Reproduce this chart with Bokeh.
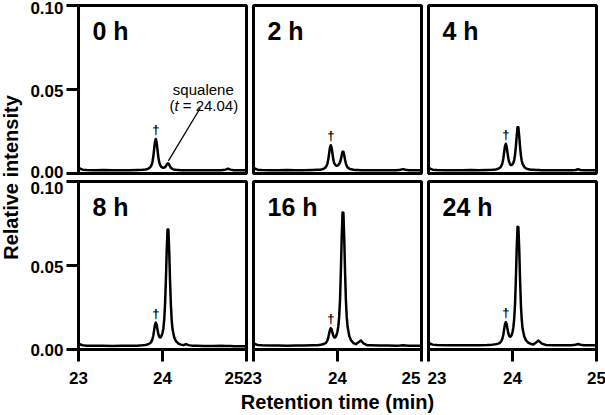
from math import pi
from bokeh.plotting import figure
from bokeh.layouts import row, column
from bokeh.models import Range1d, FixedTicker, Label
from bokeh.embed import file_html
from bokeh.resources import INLINE

FONT = "Liberation Sans"

# ---------------- data ----------------
retention_time = [
    23.00, 23.02, 23.05, 23.10, 23.20, 23.30, 23.40, 23.50, 23.60, 23.70,
    23.76, 23.80, 23.83, 23.85, 23.86, 23.87, 23.88, 23.89, 23.90, 23.91,
    23.92, 23.93, 23.94, 23.95, 23.96, 23.97, 23.98, 23.99, 24.00, 24.01,
    24.02, 24.03, 24.04, 24.05, 24.06, 24.07, 24.08, 24.09, 24.10, 24.11,
    24.12, 24.14, 24.16, 24.19, 24.22, 24.25, 24.28, 24.31, 24.35, 24.40,
    24.50, 24.60, 24.70, 24.75, 24.78, 24.81, 24.85, 24.90, 25.00]

intensity_0h = [
    0.0035, 0.0028, 0.0023, 0.0021, 0.0020, 0.0021, 0.0020, 0.0019, 0.0020, 0.0021,
    0.0022, 0.0024, 0.0028, 0.0036, 0.0041, 0.0051, 0.0068, 0.0098, 0.0142, 0.0187,
    0.0205, 0.0187, 0.0143, 0.0099, 0.0069, 0.0053, 0.0043, 0.0038, 0.0035, 0.0034,
    0.0035, 0.0038, 0.0044, 0.0053, 0.0060, 0.0059, 0.0052, 0.0042, 0.0034, 0.0030,
    0.0026, 0.0023, 0.0022, 0.0021, 0.0020, 0.0020, 0.0019, 0.0020, 0.0020, 0.0019,
    0.0019, 0.0020, 0.0019, 0.0023, 0.0028, 0.0023, 0.0020, 0.0019, 0.0019]

intensity_2h = [
    0.0035, 0.0028, 0.0023, 0.0021, 0.0020, 0.0020, 0.0021, 0.0020, 0.0020, 0.0021,
    0.0022, 0.0023, 0.0027, 0.0033, 0.0038, 0.0046, 0.0059, 0.0083, 0.0118, 0.0154,
    0.0168, 0.0154, 0.0119, 0.0084, 0.0062, 0.0054, 0.0048, 0.0046, 0.0047, 0.0051,
    0.0057, 0.0066, 0.0084, 0.0109, 0.0130, 0.0129, 0.0109, 0.0081, 0.0059, 0.0045,
    0.0036, 0.0029, 0.0025, 0.0022, 0.0021, 0.0021, 0.0020, 0.0020, 0.0020, 0.0019,
    0.0020, 0.0019, 0.0020, 0.0022, 0.0026, 0.0022, 0.0020, 0.0019, 0.0020]

intensity_4h = [
    0.0035, 0.0028, 0.0023, 0.0021, 0.0020, 0.0020, 0.0020, 0.0021, 0.0020, 0.0021,
    0.0022, 0.0024, 0.0028, 0.0034, 0.0039, 0.0048, 0.0062, 0.0087, 0.0124, 0.0161,
    0.0177, 0.0162, 0.0126, 0.0091, 0.0068, 0.0056, 0.0051, 0.0051, 0.0055, 0.0063,
    0.0080, 0.0111, 0.0160, 0.0223, 0.0275, 0.0275, 0.0222, 0.0159, 0.0108, 0.0076,
    0.0057, 0.0039, 0.0031, 0.0025, 0.0023, 0.0022, 0.0021, 0.0021, 0.0020, 0.0020,
    0.0019, 0.0020, 0.0019, 0.0021, 0.0025, 0.0021, 0.0020, 0.0019, 0.0019]

intensity_8h = [
    0.0037, 0.0030, 0.0025, 0.0023, 0.0022, 0.0022, 0.0021, 0.0022, 0.0022, 0.0023,
    0.0025, 0.0027, 0.0031, 0.0037, 0.0041, 0.0049, 0.0061, 0.0082, 0.0114, 0.0146,
    0.0160, 0.0149, 0.0120, 0.0093, 0.0077, 0.0072, 0.0073, 0.0083, 0.0099, 0.0124,
    0.0175, 0.0266, 0.0407, 0.0584, 0.0715, 0.0714, 0.0583, 0.0406, 0.0264, 0.0171,
    0.0119, 0.0072, 0.0050, 0.0035, 0.0029, 0.0026, 0.0032, 0.0026, 0.0023, 0.0022,
    0.0021, 0.0021, 0.0022, 0.0021, 0.0021, 0.0021, 0.0020, 0.0020, 0.0020]

intensity_16h = [
    0.0039, 0.0032, 0.0027, 0.0025, 0.0024, 0.0024, 0.0023, 0.0024, 0.0024, 0.0025,
    0.0026, 0.0028, 0.0031, 0.0036, 0.0039, 0.0045, 0.0055, 0.0070, 0.0093, 0.0116,
    0.0127, 0.0120, 0.0100, 0.0082, 0.0073, 0.0071, 0.0076, 0.0089, 0.0109, 0.0139,
    0.0197, 0.0295, 0.0462, 0.0665, 0.0815, 0.0814, 0.0664, 0.0461, 0.0293, 0.0194,
    0.0135, 0.0081, 0.0056, 0.0038, 0.0032, 0.0043, 0.0054, 0.0036, 0.0026, 0.0025,
    0.0024, 0.0024, 0.0023, 0.0024, 0.0025, 0.0024, 0.0023, 0.0023, 0.0023]

intensity_24h = [
    0.0041, 0.0034, 0.0029, 0.0027, 0.0026, 0.0026, 0.0025, 0.0026, 0.0026, 0.0027,
    0.0029, 0.0031, 0.0035, 0.0040, 0.0045, 0.0053, 0.0065, 0.0086, 0.0118, 0.0149,
    0.0163, 0.0152, 0.0123, 0.0097, 0.0081, 0.0076, 0.0077, 0.0087, 0.0104, 0.0130,
    0.0181, 0.0268, 0.0418, 0.0598, 0.0730, 0.0729, 0.0597, 0.0417, 0.0266, 0.0178,
    0.0125, 0.0077, 0.0055, 0.0039, 0.0033, 0.0030, 0.0041, 0.0053, 0.0035, 0.0027,
    0.0026, 0.0026, 0.0026, 0.0028, 0.0033, 0.0028, 0.0026, 0.0025, 0.0025]

panel_names = ["0 h", "2 h", "4 h", "8 h", "16 h", "24 h"]
panel_series = [intensity_0h, intensity_2h, intensity_4h,
                intensity_8h, intensity_16h, intensity_24h]

x_ticks = [23, 24, 25]
y_ticks = [0.0, 0.05, 0.10]
x_start, x_end = 23, 25
y_start, y_end = 0.0, 0.10

dagger_time = 23.92           # peak marked with a dagger
callout_x = [24.07, 24.45]    # leader line to the squalene peak (0 h panel)
callout_y = [0.0075, 0.0390]
callout_name = "squalene"
callout_time = "= 24.04)"

x_title = "Retention time (min)"
y_title = "Relative intensity"

# ---------------- layout constants (pixels) ----------------
FW, FH = 168, 168
COL_BORDERS = [(14, 3), (4, 3), (4, 9)]      # (left, right) per column
ROW_BORDERS = [(5, 4), (4, 15)]              # (top, bottom) per row
LEFT_W = 64
TICK_FS = "17px"
TICK_LEN = 12
# per-label nudges of the tick texts (as in the reference)
YL_SHIFT = [[-2, 1, 2.5], [0, 1, 6.5]]
XL_ALIGN = [["center", "center", "right"], ["center", "center", "right"],
            ["left", "center", "center"]]
XL_SHIFT = [[0, 0, -3], [-1, 0, -1], [-1, 0, 0]]

col_w = [bl + FW + br for bl, br in COL_BORDERS]
row_h = [bt + FH + bb for bt, bb in ROW_BORDERS]
BOTTOM_H = 50


def style_axis(ax, ticks):
    ax.ticker = FixedTicker(ticks=ticks)
    ax.major_tick_out = TICK_LEN
    ax.major_tick_in = 0
    ax.minor_tick_out = 0
    ax.minor_tick_in = 0
    ax.major_tick_line_width = 3
    ax.major_tick_line_color = "black"
    ax.axis_line_color = None
    ax.major_label_overrides = {t: "" for t in ticks}
    ax.major_label_text_font_size = "0px"
    ax.major_label_standoff = 0


def make_panel(k):
    r, c = divmod(k, 3)
    bl, br = COL_BORDERS[c]
    bt, bb = ROW_BORDERS[r]
    p = figure(width=col_w[c], height=row_h[r],
               x_range=Range1d(x_start, x_end), y_range=Range1d(y_start, y_end),
               x_axis_type="linear" if r == 1 else None,
               y_axis_type="linear" if c == 0 else None,
               toolbar_location=None, output_backend="svg", title=None,
               min_border_left=bl, min_border_right=br,
               min_border_top=bt, min_border_bottom=bb)
    p.outline_line_color = "black"
    p.outline_line_width = 3
    p.outline_line_alpha = 1.0
    p.background_fill_color = "white"
    p.border_fill_color = "white"
    for g in p.grid:
        g.visible = False

    series = panel_series[k]
    p.line(retention_time, series, line_width=2.5, line_color="black",
           line_join="round")

    peak = series[retention_time.index(dagger_time)]
    p.add_layout(Label(x=dagger_time, y=peak, text="\u2020", text_align="center",
                       text_baseline="bottom", y_offset=2, text_font=FONT,
                       text_font_style="bold", text_font_size="13px",
                       text_color="black"))

    p.add_layout(Label(x=x_start, y=y_end, text=panel_names[k], text_align="left",
                       text_baseline="top", x_offset=14, y_offset=-11,
                       text_font=FONT, text_font_style="bold",
                       text_font_size="25px", text_color="black"))

    if c == 0:
        style_axis(p.yaxis[0], y_ticks)
    if r == 1:
        style_axis(p.xaxis[0], x_ticks)

    if k == 0:
        p.line(callout_x, callout_y, line_width=1.3, line_color="black")
        ax_, ay_ = callout_x[1], callout_y[1]
        common = dict(text_font=FONT, text_font_size="15px", text_color="black",
                      text_baseline="alphabetic")
        p.add_layout(Label(x=ax_, y=ay_, text=callout_name, text_align="center",
                           x_offset=3, y_offset=18.5, **common))
        p.add_layout(Label(x=ax_, y=ay_, text="(", text_align="left",
                           x_offset=-30.9, y_offset=2, **common))
        p.add_layout(Label(x=ax_, y=ay_, text="t", text_align="left",
                           x_offset=-25.9, y_offset=2, text_font_style="italic",
                           **common))
        p.add_layout(Label(x=ax_, y=ay_, text=callout_time, text_align="left",
                           x_offset=-17.6, y_offset=2, **common))
    return p


def strip(width, height):
    s = figure(width=width, height=height, x_range=Range1d(0, width),
               y_range=Range1d(height, 0), x_axis_type=None, y_axis_type=None,
               toolbar_location=None, output_backend="svg", title=None,
               min_border=0, min_border_left=0, min_border_right=0,
               min_border_top=0, min_border_bottom=0)
    s.outline_line_color = None
    s.background_fill_color = "white"
    s.border_fill_color = "white"
    return s


def tick_text(x, y, text, align, baseline="middle"):
    return Label(x=x, y=y, text=text, text_align=align, text_baseline=baseline,
                 text_font=FONT, text_font_style="bold", text_font_size=TICK_FS,
                 text_color="black")


panels = [make_panel(k) for k in range(6)]

# ---- left strip: y tick labels and y title ----
left_h = row_h[0] + row_h[1]
left = strip(LEFT_W, left_h)
frame_left0 = LEFT_W + COL_BORDERS[0][0]
label_right = frame_left0 - TICK_LEN - 3
row_top = [ROW_BORDERS[0][0], row_h[0] + ROW_BORDERS[1][0]]
for r in range(2):
    for i, v in enumerate(y_ticks):
        y = row_top[r] + (y_end - v) / (y_end - y_start) * FH + YL_SHIFT[r][i]
        left.add_layout(tick_text(label_right, y, f"{v:.2f}", "right"))
title_y = (row_top[0] + row_top[1] + FH) / 2
left.add_layout(Label(x=10, y=title_y, text=y_title, angle=pi / 2,
                      text_align="center", text_baseline="middle",
                      text_font=FONT, text_font_style="bold",
                      text_font_size="20px", text_color="black"))

# ---- bottom strip: x tick labels and x title ----
bottom_w = sum(col_w)
bottom = strip(bottom_w, BOTTOM_H)
frame_lefts = [sum(col_w[:c]) + COL_BORDERS[c][0] for c in range(3)]
for c in range(3):
    for i, v in enumerate(x_ticks):
        x = frame_lefts[c] + (v - x_start) / (x_end - x_start) * FW + XL_SHIFT[c][i]
        bottom.add_layout(tick_text(x, 13, str(v), XL_ALIGN[c][i]))
bottom.add_layout(Label(x=frame_lefts[1] + FW / 2, y=37, text=x_title,
                        text_align="center", text_baseline="middle",
                        text_font=FONT, text_font_style="bold",
                        text_font_size="20px", text_color="black"))

layout = row(left,
             column(row(panels[0], panels[1], panels[2], spacing=0),
                    row(panels[3], panels[4], panels[5], spacing=0),
                    bottom, spacing=0),
             spacing=0)

open("out.html", "w").write(file_html(layout, INLINE))
